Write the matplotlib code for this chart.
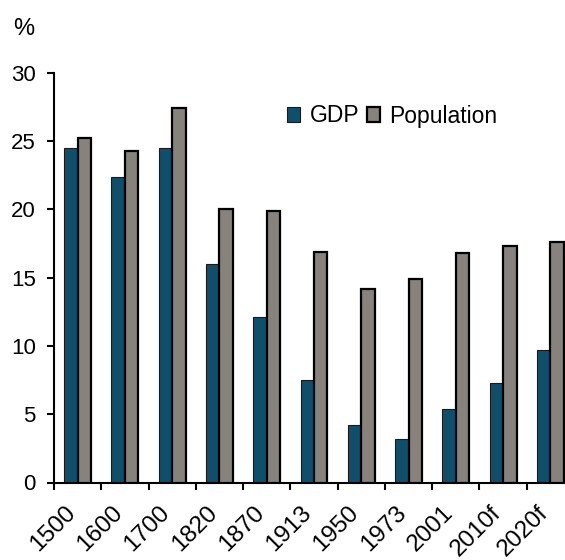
import matplotlib
matplotlib.use("Agg")
import matplotlib.pyplot as plt
from matplotlib.patches import Patch
from matplotlib.transforms import ScaledTranslation
import numpy as np

categories = ["1500", "1600", "1700", "1820", "1870", "1913", "1950", "1973", "2001", "2010f", "2020f"]
gdp = [24.5, 22.4, 24.5, 16.0, 12.1, 7.5, 4.2, 3.2, 5.4, 7.3, 9.7]
population = [25.2, 24.3, 27.4, 20.0, 19.9, 16.9, 14.2, 14.9, 16.8, 17.3, 17.6]

plt.rcParams['font.family'] = ['Liberation Sans', 'DejaVu Sans']

gdp_color = "#0F4F6C"
pop_color = "#88827D"

fig = plt.figure(figsize=(5.65, 5.6), dpi=100)
ax = fig.add_axes([54/565, 77.5/560, 520/565, 409.8/560])

x = np.arange(len(categories))
w = 0.285
ax.bar(x - w/2, gdp, width=w, color=gdp_color, edgecolor="#1a1a1a", linewidth=0.8, zorder=2)
ax.bar(x + w/2, population, width=w, color=pop_color, edgecolor="black", linewidth=1.6, zorder=3)

ax.set_xlim(-0.5, len(categories) - 0.5)
ax.set_ylim(0, 30)
ax.set_yticks([0, 5, 10, 15, 20, 25, 30])
ax.tick_params(axis='y', labelsize=16, length=4.7, width=1.5, direction='out', pad=8.5)
ax.set_xticks(x - 0.5)
ax.set_xticklabels(categories, rotation=45, ha='right', va='top', rotation_mode='anchor', fontsize=17.5)
ax.tick_params(axis='x', length=5, width=1.5, direction='out', pad=9)
offset = ScaledTranslation(10/100, 0, fig.dpi_scale_trans)
for lab in ax.get_xticklabels():
    lab.set_transform(lab.get_transform() + offset)

for s in ['top', 'right']:
    ax.spines[s].set_visible(False)
for s in ['left', 'bottom']:
    ax.spines[s].set_linewidth(1.5)

fig.text(13/565, 1 - 29/560, "%", fontsize=17, ha='left', va='center')

handles = [Patch(facecolor=gdp_color, edgecolor="#1a1a1a", linewidth=0.8),
           Patch(facecolor=pop_color, edgecolor="black", linewidth=1.6)]
fig.legend(handles, ["GDP", "Population"], loc='center left',
           bbox_to_anchor=(287/565, 1 - 116/560), ncol=2, frameon=False,
           fontsize=16.5, handlelength=0.58, handleheight=0.58, handletextpad=0.4,
           columnspacing=0.35, borderpad=0, borderaxespad=0)

fig.savefig("out.png", dpi=100)
